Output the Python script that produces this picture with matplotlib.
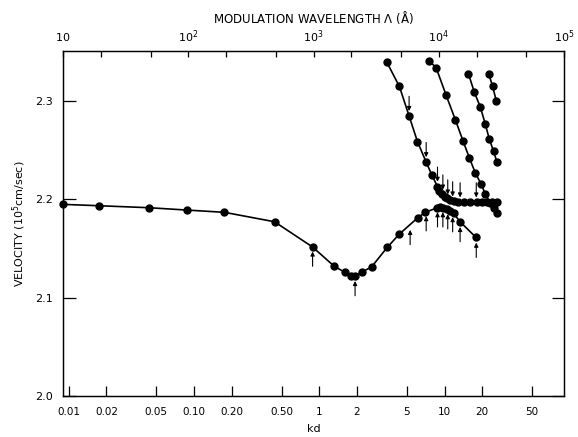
import numpy as np
import matplotlib.pyplot as plt

# lower branch (velocity vs kd)
kd_low = [0.009, 0.0176, 0.0436, 0.0878, 0.175, 0.439, 0.884, 1.31, 1.60, 1.78, 1.93,
          2.18, 2.62, 3.49, 4.36, 6.11, 7.0, 8.78, 9.22, 9.80, 10.4, 11.1, 11.8, 13.3, 17.8]
v_low = [2.195, 2.1936, 2.1916, 2.1892, 2.1869, 2.1773, 2.1516, 2.1322, 2.1258, 2.1224, 2.1224,
         2.1258, 2.1315, 2.1513, 2.1648, 2.1814, 2.1869, 2.1916, 2.1923, 2.1916, 2.1902, 2.1885,
         2.1859, 2.1773, 2.1614]

# upper branches
kd_a = [3.45, 4.36, 5.21, 6.07, 7.13, 7.91, 8.78, 9.1, 9.51, 10.0, 10.4, 11.0, 11.8, 12.9,
        14.2, 16.0, 18.1, 19.9, 21.8, 23.9, 26.2]
v_a = [2.340, 2.315, 2.285, 2.259, 2.238, 2.225, 2.213, 2.209, 2.206, 2.203, 2.201, 2.199,
       2.198, 2.197, 2.197, 2.197, 2.197, 2.197, 2.197, 2.197, 2.197]

kd_b = [7.57, 8.57, 10.3, 12.2, 14.0, 15.8, 17.6, 19.5, 21.1, 23.2, 24.6, 26.2]
v_b = [2.341, 2.334, 2.306, 2.281, 2.260, 2.242, 2.227, 2.216, 2.206, 2.196, 2.191, 2.186]

kd_c = [15.5, 17.3, 19.3, 21.1, 22.7, 24.6, 26.2]
v_c = [2.328, 2.309, 2.294, 2.277, 2.262, 2.249, 2.238]

kd_d = [22.5, 24.2, 25.9]
v_d = [2.328, 2.315, 2.300]

# arrows: kd and velocity of the curve they point at
arrow_up_kd = [0.884, 1.93, 5.31, 7.13, 8.78, 9.69, 10.6, 11.6, 13.3, 17.9]
arrow_up_v = [2.152, 2.122, 2.174, 2.188, 2.192, 2.192, 2.190, 2.187, 2.177, 2.161]
arrow_dn_kd = [5.21, 7.13, 8.78, 9.69, 10.6, 11.6, 13.3, 17.9]
arrow_dn_v = [2.285, 2.238, 2.213, 2.205, 2.200, 2.198, 2.197, 2.197]

kd_ticks = [0.01, 0.02, 0.05, 0.1, 0.2, 0.5, 1, 2, 5, 10, 20, 50]
kd_labels = ['0.01', '0.02', '0.05', '0.10', '0.20', '0.50', '1', '2', '5', '10', '20', '50']
lam_ticks = [1e1, 1e2, 1e3, 1e4, 1e5]
lam_labels = ['$10$', '$10^2$', '$10^3$', '$10^4$', '$10^5$']
lam_minor = [m * 10 ** e for e in range(1, 5) for m in (2, 5)]
v_ticks = [2.0, 2.1, 2.2, 2.3]

plt.rcParams['font.family'] = 'DejaVu Sans'

fig = plt.figure(figsize=(5.78, 4.37), dpi=100)
ax = fig.add_axes([0.109, 0.094, 0.867, 0.789])

line_kw = dict(color='black', lw=1.2, marker='o', ms=5, mfc='black', mec='black', clip_on=False)
for kd, v in ((kd_low, v_low), (kd_a, v_a), (kd_b, v_b), (kd_c, v_c), (kd_d, v_d)):
    ax.plot(kd, v, **line_kw)

arr = dict(arrowstyle='-|>', color='black', lw=0.8, mutation_scale=6, shrinkA=0, shrinkB=0)
for k, v in zip(arrow_up_kd, arrow_up_v):
    ax.annotate('', xy=(k, v - 0.005), xytext=(k, v - 0.02), arrowprops=arr)
for k, v in zip(arrow_dn_kd, arrow_dn_v):
    ax.annotate('', xy=(k, v + 0.005), xytext=(k, v + 0.02), arrowprops=arr)

ax.set_xscale('log')
ax.set_xlim(0.009, 90)
ax.set_ylim(2.0, 2.351)
ax.set_xticks(kd_ticks, kd_labels)
ax.xaxis.set_minor_locator(plt.NullLocator())
ax.set_yticks(v_ticks, ['2.0', '2.1', '2.2', '2.3'])
ax.tick_params(axis='x', direction='in', length=7, width=0.9, pad=8, labelsize=7.5)
ax.tick_params(axis='y', direction='in', length=9, width=0.9, pad=7, labelsize=8,
               right=True)
ax.set_xlabel('kd', fontsize=8, labelpad=5)
ax.set_ylabel('VELOCITY ($10^5$cm/sec)', fontsize=8, labelpad=5)

top = ax.twiny()
top.set_xscale('log')
top.set_xlim(1e1, 1e5)
top.set_xticks(lam_ticks, lam_labels)
top.set_xticks(lam_minor, minor=True)
top.tick_params(which='both', direction='in', length=4, width=0.9, pad=7, labelsize=8)
top.tick_params(which='minor', labeltop=False)
for lbl in top.get_xticklabels():
    lbl.set_verticalalignment('baseline')

for a in (ax, top):
    for s in a.spines.values():
        s.set_linewidth(0.9)

fig.text(0.5415, 0.959, 'MODULATION WAVELENGTH $\\Lambda$ (Å)', ha='center', va='center',
         fontsize=8.5)

fig.savefig('out.png', dpi=100)
